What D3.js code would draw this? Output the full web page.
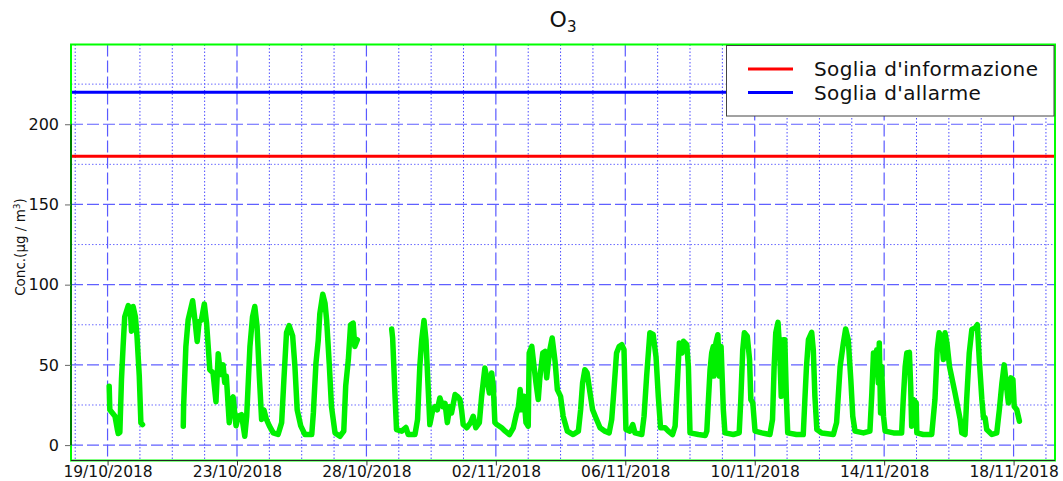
<!DOCTYPE html>
<html>
<head>
<meta charset="utf-8">
<script src="https://cdn.jsdelivr.net/npm/d3@7"></script>
<style>
  body { margin: 0; background: #fff; }
  text { font-family: "DejaVu Sans", sans-serif; fill: #111; }
</style>
</head>
<body>
<svg></svg>
<script>
//tick labels of the time axis (one every 4 days) and their day offsets
let dateLabels = ['19/10/2018', '23/10/2018', '28/10/2018', '02/11/2018', '06/11/2018', '10/11/2018', '14/11/2018', '18/11/2018'];
let dateTicks = [0, 4, 8, 12, 16, 20, 24, 28];

//y ticks
let yMajor = [0, 50, 100, 150, 200];
let yMinor = [25, 75, 125, 175, 225];

//thresholds
let thresholds = [
    {name: "Soglia d'informazione", value: 180, color: '#ff0000'},
    {name: "Soglia d'allarme", value: 220, color: '#0000ff'}
];

//O3 readings: [days since 19/10/2018 00:00, µg/m3], three pieces with gaps between them
let o3Seg1 = [[0.05,36.7],[0.07,22],[0.23,18],[0.30,10],[0.33,7.2],[0.38,8],[0.43,41],[0.48,61.5],[0.53,80],[0.64,86.9],[0.70,85],[0.74,71],[0.79,86.4],[0.86,80],[0.91,67.8],[0.98,43],[1.03,13.9],[1.08,12.8]];

let o3Seg2 = [[2.34,11.8],[2.35,24],[2.42,61.5],[2.49,78],[2.63,90],[2.70,78],[2.77,64.6],[2.83,77],[2.90,78],[2.99,88],[3.06,76],[3.16,47],[3.26,45],[3.35,27],[3.42,57],[3.49,44],[3.57,50],[3.62,39],[3.67,43],[3.76,14],[3.83,28],[3.88,30],[3.97,12],[4.04,18],[4.14,19],[4.24,5.5],[4.30,18],[4.40,61.5],[4.48,80],[4.55,86.4],[4.62,74],[4.69,43],[4.76,16],[4.83,22],[4.91,16],[5.00,12],[5.12,7.6],[5.27,6.6],[5.38,14],[5.45,41],[5.53,70],[5.61,74.5],[5.72,68],[5.79,49],[5.86,22],[5.97,12],[6.10,6.6],[6.31,6.6],[6.36,20],[6.44,51],[6.51,65],[6.56,82],[6.65,94],[6.72,88.5],[6.77,78],[6.85,51],[6.92,24],[7.03,7.6],[7.18,5.5],[7.30,8.7],[7.36,37],[7.44,53],[7.51,75],[7.59,76],[7.64,61.5],[7.72,65.7]];

let o3Seg3 = [[8.78,72.4],[8.81,66.8],[8.88,32.5],[8.93,9.7],[9.09,8.7],[9.22,11],[9.29,6.6],[9.50,6.6],[9.58,16],[9.65,49],[9.71,65.7],[9.78,77.7],[9.84,65.7],[9.91,34.6],[9.96,12.8],[10.05,22],[10.12,24],[10.19,22],[10.27,29.4],[10.36,24],[10.43,26],[10.50,14],[10.58,24],[10.63,20],[10.74,31.5],[10.81,30.4],[10.89,28.4],[10.94,22],[10.99,12.8],[11.10,10.8],[11.22,14],[11.30,18],[11.38,10.8],[11.49,14],[11.56,30.4],[11.66,48],[11.73,41],[11.80,32.5],[11.87,45],[11.92,36.7],[11.97,14],[12.03,12.8],[12.18,10.8],[12.29,8.7],[12.42,6.6],[12.54,10.8],[12.63,19],[12.70,24],[12.75,34.6],[12.80,22],[12.87,30.4],[12.93,14],[13.00,11.8],[13.03,57.4],[13.11,61.5],[13.18,49],[13.24,38.8],[13.31,28.4],[13.36,41.9],[13.45,57.4],[13.52,58.4],[13.57,41.9],[13.62,51.2],[13.67,59.5],[13.74,66.8],[13.83,52.2],[13.90,34.6],[14.00,30.4],[14.08,18],[14.21,8.7],[14.39,6.6],[14.55,8.7],[14.62,22],[14.68,38.8],[14.75,47],[14.82,45],[14.91,32.5],[14.99,22],[15.09,17],[15.22,10.8],[15.37,8.7],[15.50,7.6],[15.58,16],[15.65,34.6],[15.73,57.4],[15.81,61.5],[15.89,62.6],[15.96,59.5],[16.02,9.7],[16.14,8.7],[16.23,12.8],[16.30,7.6],[16.51,6.6],[16.58,18],[16.66,43],[16.76,70],[16.86,69],[16.95,55],[17.02,30.4],[17.09,10.8],[17.23,10.8],[17.33,8.7],[17.46,6.6],[17.54,11.8],[17.61,38.8],[17.67,63.7],[17.75,57.4],[17.80,64.7],[17.90,62.6],[17.95,49],[18.00,7.6],[18.26,6.6],[18.47,6],[18.52,8.7],[18.57,28.4],[18.62,47],[18.67,57.4],[18.72,61.5],[18.74,43],[18.80,63.7],[18.86,68.8],[18.91,43],[18.96,61.5],[19.00,38.8],[19.03,22],[19.08,7.6],[19.34,6.6],[19.52,7.6],[19.57,28.4],[19.63,59.5],[19.68,70],[19.77,67.8],[19.84,53.3],[19.88,28.4],[19.94,26.3],[20.01,8.7],[20.22,7.6],[20.47,6.6],[20.55,16],[20.60,49],[20.65,70],[20.72,76.5],[20.77,59.5],[20.82,30.4],[20.88,65.7],[20.93,65.7],[20.98,28.4],[21.02,7.6],[21.29,6.6],[21.50,6.6],[21.55,28.4],[21.60,49],[21.66,65.7],[21.76,70.3],[21.81,59.5],[21.86,30.4],[21.92,9.7],[22.07,7.6],[22.43,6.6],[22.53,14],[22.64,49],[22.74,63.7],[22.81,72.4],[22.89,65.7],[22.97,40.8],[23.03,18],[23.10,8.7],[23.36,7.6],[23.56,8.7],[23.62,32.5],[23.67,57.4],[23.72,49],[23.77,59.5],[23.82,38.8],[23.85,63.7],[23.89,20],[23.92,49],[23.98,18],[24.03,8.7],[24.29,7.6],[24.54,7.6],[24.59,28.4],[24.65,49],[24.70,57.4],[24.78,57.8],[24.82,36.7],[24.85,11.8],[24.90,28.4],[24.99,26.3],[25.01,7.6],[25.21,6.6],[25.47,6.6],[25.57,28.4],[25.64,59.5],[25.70,70],[25.78,65.7],[25.83,53.3],[25.88,70],[25.94,63.7],[26.02,49],[26.19,32.5],[26.35,16],[26.40,7.6],[26.50,6.6],[26.55,28.4],[26.63,57.4],[26.71,72],[26.81,73],[26.88,75],[26.94,53.3],[27.02,28.4],[27.07,17],[27.12,17],[27.17,9.7],[27.33,6.6],[27.48,7.6],[27.56,22],[27.64,38.8],[27.71,50],[27.77,38.8],[27.84,26.3],[27.92,41.9],[27.98,40.8],[28.02,24],[28.10,22],[28.18,14.9]];

let segments = [o3Seg1, o3Seg2, o3Seg3];

//svg dimensions and plot box
let width = 1063;
let height = 481;
let plotLeft = 71, plotRight = 1055, plotTop = 44.5, plotBottom = 460.5;

let svg = d3.select('svg').attr('width', width).attr('height', height);

let xScale = d3.scaleLinear().domain([-1.13, 29.28]).range([plotLeft, plotRight]);
let yScale = d3.scaleLinear().domain([-9.6, 249.7]).range([plotBottom, plotTop]);

//grid: minor dotted, major dashed
let days = d3.range(-1, 30).filter(d => !dateTicks.includes(d));
let grid = svg.append('g');

grid.selectAll('.vminor').data(days).enter().append('line')
    .attr('x1', d => xScale(d)).attr('x2', d => xScale(d))
    .attr('y1', plotTop).attr('y2', plotBottom)
    .attr('stroke', '#4d4dff').attr('stroke-width', 1).attr('stroke-dasharray', '1.5,2');

grid.selectAll('.hminor').data(yMinor).enter().append('line')
    .attr('x1', plotLeft).attr('x2', plotRight)
    .attr('y1', d => yScale(d)).attr('y2', d => yScale(d))
    .attr('stroke', '#6b6bff').attr('stroke-width', 1).attr('stroke-dasharray', '1.5,2');

grid.selectAll('.vmajor').data(dateTicks).enter().append('line')
    .attr('x1', d => xScale(d)).attr('x2', d => xScale(d))
    .attr('y1', plotTop).attr('y2', plotBottom)
    .attr('stroke', '#5a5aff').attr('stroke-width', 1.2).attr('stroke-dasharray', '12,4');

grid.selectAll('.hmajor').data(yMajor).enter().append('line')
    .attr('x1', plotLeft).attr('x2', plotRight)
    .attr('y1', d => yScale(d)).attr('y2', d => yScale(d))
    .attr('stroke', '#6060ff').attr('stroke-width', 1.2).attr('stroke-dasharray', '12,4');

//threshold lines
svg.selectAll('.thr').data(thresholds).enter().append('line')
    .attr('x1', plotLeft).attr('x2', plotRight)
    .attr('y1', d => yScale(d.value)).attr('y2', d => yScale(d.value))
    .attr('stroke', d => d.color).attr('stroke-width', 3);

//O3 line
let line = d3.line().x(d => xScale(d[0])).y(d => yScale(d[1]));

svg.selectAll('.o3').data(segments).enter().append('path')
    .attr('d', line)
    .attr('fill', 'none')
    .attr('stroke', '#00f000')
    .attr('stroke-width', 5.5)
    .attr('stroke-linejoin', 'round')
    .attr('stroke-linecap', 'round');

//green frame
svg.append('rect')
    .attr('x', plotLeft).attr('y', plotTop)
    .attr('width', plotRight - plotLeft).attr('height', plotBottom - plotTop)
    .attr('fill', 'none').attr('stroke', '#00ff00').attr('stroke-width', 2);

//axes
let yAxis = d3.axisLeft(yScale).tickValues(yMajor).tickSize(6).tickPadding(6);
let gy = svg.append('g').attr('transform', 'translate(' + plotLeft + ', 0)').call(yAxis);
gy.select('.domain').attr('d', 'M0,' + yScale(200) + 'V' + yScale(0)).attr('stroke', '#000');
gy.selectAll('.tick line').attr('stroke', '#666');
gy.selectAll('.tick text').attr('font-size', 16).attr('font-family', 'DejaVu Sans').attr('fill', '#111');

let xAxis = d3.axisBottom(xScale).tickValues(dateTicks)
    .tickFormat((d, i) => dateLabels[i]).tickSize(5).tickPadding(1);
let gx = svg.append('g').attr('transform', 'translate(0, ' + plotBottom + ')').call(xAxis);
gx.select('.domain').attr('d', 'M' + plotLeft + ',0H' + plotRight).attr('stroke', '#222').attr('stroke-width', 1);
gx.selectAll('.tick line').attr('stroke', '#333');
gx.selectAll('.tick text').attr('font-size', 15.5).attr('font-family', 'DejaVu Sans').attr('fill', '#111')
    .attr('y', 16.5).attr('dy', null);

//title
let title = svg.append('text')
    .attr('x', (plotLeft + plotRight) / 2).attr('y', 27)
    .attr('text-anchor', 'middle').attr('font-size', 22);
title.append('tspan').text('O');
title.append('tspan').attr('font-size', 15).attr('dy', 5).text('3');

//y label
let ylab = svg.append('text')
    .attr('transform', 'translate(25, 247) rotate(-90)')
    .attr('text-anchor', 'middle').attr('font-size', 13.5);
ylab.append('tspan').text('Conc.(µg / m');
ylab.append('tspan').attr('font-size', 9).attr('dy', -5).text('3');
ylab.append('tspan').attr('dy', 5).text(')');

//legend
let legend = svg.append('g');
legend.append('rect')
    .attr('x', 726.5).attr('y', 45.5).attr('width', 327.5).attr('height', 70.5)
    .attr('fill', '#fff').attr('stroke', '#444').attr('stroke-width', 1);

let items = legend.selectAll('.item').data(thresholds).enter().append('g')
    .attr('transform', (d, i) => 'translate(748, ' + (69 + i * 23.5) + ')');
items.append('line').attr('x1', 0).attr('x2', 45)
    .attr('stroke', d => d.color).attr('stroke-width', 3);
items.append('text').attr('x', 66).attr('y', 7).attr('font-size', 20)
    .attr('letter-spacing', 0.4).text(d => d.name);
</script>
</body>
</html>
